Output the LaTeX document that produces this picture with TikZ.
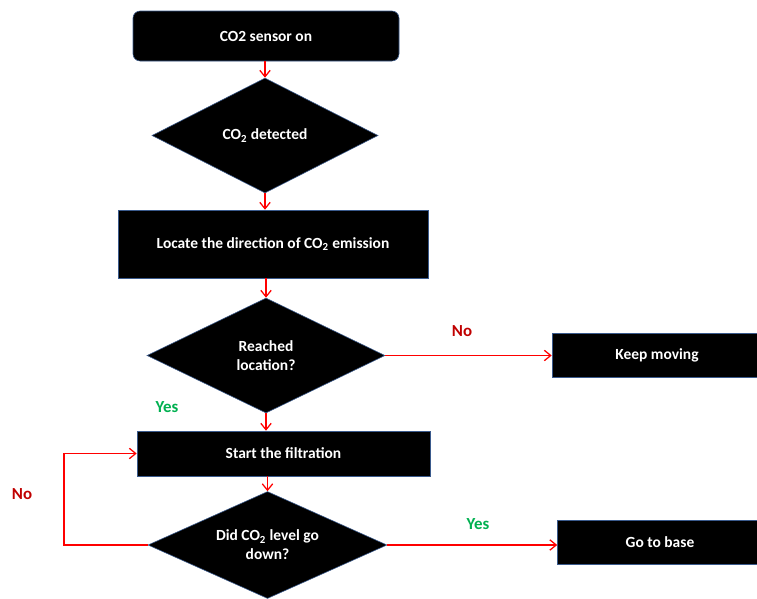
\documentclass[tikz,border=0pt]{standalone}
\usepackage{fontspec}
\setmainfont{Carlito}
\usepackage{tikz}
\usetikzlibrary{arrows.meta, positioning, shapes.geometric}
\definecolor{boxedge}{HTML}{3A5A8C}
\definecolor{flowred}{HTML}{FF0000}
\definecolor{nored}{HTML}{C00000}
\definecolor{yesgreen}{HTML}{00B050}

\begin{document}
\begin{tikzpicture}[
    x=0.025cm, y=-0.025cm,
    box/.style={rectangle, draw=boxedge, fill=black, text=white, align=center, font=\bfseries\fontsize{11}{13}\selectfont, inner sep=0pt},
    decision/.style={diamond, draw=boxedge, fill=black, text=white, align=center, font=\bfseries\fontsize{11}{13.5}\selectfont, inner sep=0pt, aspect=2},
    arrow/.style={-{Straight Barb[length=1.6mm, width=2.6mm]}, flowred, line width=0.9pt},
    nolabel/.style={text=nored, font=\bfseries\fontsize{12}{14}\selectfont},
    yeslabel/.style={text=yesgreen, font=\bfseries\fontsize{12}{14}\selectfont},
]
\useasboundingbox (0,0) rectangle (757,599);

\node[box, rounded corners=5pt, minimum width=266*0.025cm, minimum height=50*0.025cm] (sensor) at (266,36) {CO2 sensor on};
\node[decision, minimum width=226*0.025cm, minimum height=115*0.025cm] (detected) at (265,135.5) {CO\textsubscript{2} detected};
\node[box, minimum width=310*0.025cm, minimum height=68*0.025cm] (locate) at (273,244) {Locate the direction of CO\textsubscript{2} emission};
\node[decision, minimum width=238*0.025cm, minimum height=115*0.025cm] (reached) at (266,355.5) {Reached\\location?};
\node[box, minimum width=210*0.025cm, minimum height=44*0.025cm] (moving) at (657,355) {Keep moving};
\node[box, minimum width=293*0.025cm, minimum height=45*0.025cm] (filter) at (283.5,453.5) {Start the filtration};
\node[decision, minimum width=239*0.025cm, minimum height=107*0.025cm] (level) at (267.5,545) {Did CO\textsubscript{2} level go\\down?};
\node[box, minimum width=205*0.025cm, minimum height=44*0.025cm] (base) at (660,542) {Go to base};

\coordinate (loopbot) at (64,545);
\coordinate (looptop) at (64,453.5);

\draw[arrow] (sensor.south -| detected.north) -- (detected.north);
\draw[arrow] (detected.south) -- (detected.south |- locate.north);
\draw[arrow] (locate.south -| reached.north) -- (reached.north);
\draw[arrow] (reached.south) -- (reached.south |- filter.north);
\draw[arrow] (filter.south -| level.north) -- (level.north);
\draw[arrow] (reached.east) -- (reached.east -| moving.west);
\draw[arrow] (level.east) -- (level.east -| base.west);
\draw[arrow] (level.west) -- (loopbot) -- (looptop) -- (filter.west);

\node[nolabel] (no1) at (462,331) {No};
\node[yeslabel] (yes1) at (167,407) {Yes};
\node[nolabel] (no2) at (22,494) {No};
\node[yeslabel] (yes2) at (478,524) {Yes};

\end{tikzpicture}
\end{document}
